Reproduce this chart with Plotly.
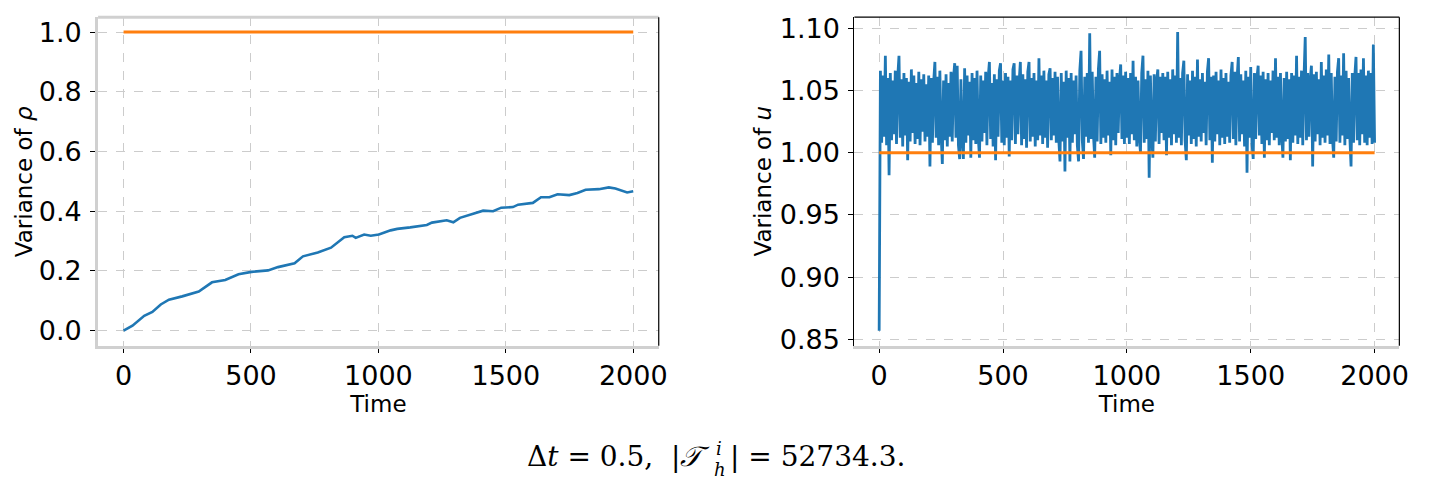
import plotly.graph_objects as go

# ---------------- data ----------------
# Left panel: variance of rho over time
time_rho = [0, 35, 81, 113, 146, 178, 230, 295, 347, 399, 451, 502, 567, 606, 671, 704,
            762, 814, 866, 898, 911, 944, 970, 1002, 1048, 1074, 1125, 1164, 1190, 1210,
            1268, 1294, 1320, 1372, 1411, 1450, 1482, 1528, 1548, 1606, 1638, 1671, 1703,
            1749, 1781, 1813, 1865, 1904, 1930, 1976, 2000]
var_rho = [0.000, 0.017, 0.050, 0.063, 0.088, 0.104, 0.115, 0.131, 0.162, 0.170, 0.189,
           0.197, 0.202, 0.213, 0.226, 0.249, 0.262, 0.278, 0.313, 0.318, 0.311, 0.322,
           0.318, 0.322, 0.336, 0.341, 0.346, 0.352, 0.354, 0.362, 0.370, 0.363, 0.378,
           0.392, 0.402, 0.400, 0.412, 0.414, 0.422, 0.428, 0.447, 0.447, 0.457, 0.454,
           0.461, 0.472, 0.474, 0.480, 0.476, 0.463, 0.467]

# Right panel: variance of u over time (sampled every 5 time units)
time_u = list(range(0, 2001, 5))
var_u = [
    0.857, 1.066, 1.008, 1.062, 1.013, 1.078, 1.006, 1.060, 0.982, 1.064,
    1.010, 1.058, 1.015, 1.066, 1.007, 1.061, 1.078, 1.012, 1.059, 1.005,
    1.064, 1.014, 1.060, 0.994, 1.057, 1.009, 1.067, 1.016, 1.062, 1.007,
    1.056, 1.011, 1.065, 1.006, 1.059, 1.017, 1.063, 1.009, 1.055, 1.013,
    1.062, 0.989, 1.060, 1.008, 1.057, 1.073, 1.012, 1.061, 1.006, 1.066,
    1.015, 0.991, 1.058, 1.010, 1.063, 1.005, 1.056, 1.013, 1.065, 1.009,
    1.060, 1.072, 1.012, 1.070, 1.006, 0.995, 1.059, 1.011, 0.995, 1.068,
    1.008, 1.062, 1.014, 1.057, 0.996, 1.064, 1.010, 1.060, 1.007, 1.066,
    1.013, 0.996, 1.062, 1.009, 1.058, 1.016, 1.065, 1.006, 1.060, 1.073,
    1.011, 1.056, 1.005, 1.063, 0.994, 1.059, 1.013, 1.066, 1.072, 1.008,
    1.058, 1.006, 1.064, 1.012, 1.061, 0.997, 1.058, 1.010, 1.067, 1.072,
    1.007, 1.062, 1.015, 1.057, 1.073, 1.006, 1.063, 1.011, 1.059, 1.004,
    1.065, 1.073, 1.009, 1.060, 1.013, 1.064, 1.005, 1.058, 1.010, 1.076,
    1.014, 1.062, 1.007, 1.066, 1.012, 1.058, 1.004, 1.063, 1.068, 1.010,
    1.060, 1.014, 1.065, 1.008, 1.061, 1.011, 0.993, 1.064, 1.009, 1.057,
    0.985, 1.066, 1.012, 1.060, 0.993, 1.064, 1.008, 1.058, 1.015, 1.062,
    1.006, 0.993, 1.066, 1.082, 1.010, 0.995, 1.061, 1.013, 1.064, 1.008,
    1.096, 1.011, 1.065, 1.015, 0.996, 1.061, 1.009, 1.067, 1.082, 1.007,
    1.063, 1.012, 1.059, 1.008, 1.066, 1.014, 1.057, 0.998, 1.067, 1.010,
    1.061, 1.006, 1.064, 1.016, 1.058, 1.071, 1.011, 1.062, 1.007, 1.065,
    1.012, 1.060, 1.007, 1.064, 1.015, 1.074, 1.010, 1.061, 1.005, 1.058,
    1.013, 1.000, 1.064, 1.078, 1.008, 1.059, 1.011, 1.066, 0.980, 1.062,
    1.014, 0.996, 1.063, 1.009, 1.058, 1.067, 1.007, 1.061, 1.016, 1.064,
    1.010, 1.061, 0.998, 1.065, 1.012, 1.059, 1.006, 1.067, 1.015, 1.062,
    1.008, 1.097, 1.012, 1.060, 1.006, 1.064, 1.074, 1.010, 0.994, 1.063,
    1.014, 1.058, 1.007, 1.066, 1.011, 1.061, 1.005, 1.075, 1.013, 1.059,
    1.009, 1.064, 1.016, 1.057, 1.006, 1.065, 1.076, 1.010, 1.061, 0.992,
    1.062, 1.009, 1.065, 1.015, 1.058, 1.006, 1.067, 1.012, 1.060, 1.007,
    1.064, 1.013, 1.057, 1.008, 1.062, 1.073, 1.011, 1.065, 1.006, 1.060,
    1.077, 1.009, 1.063, 1.015, 1.058, 1.005, 1.066, 0.984, 1.061, 1.012,
    1.069, 1.008, 0.995, 1.064, 1.011, 1.060, 1.070, 1.014, 1.062, 1.007,
    1.065, 0.996, 1.059, 1.010, 1.064, 1.006, 1.058, 1.016, 1.066, 1.010,
    1.076, 1.012, 1.061, 1.006, 1.064, 1.015, 0.996, 1.060, 1.009, 1.065,
    1.011, 1.059, 0.994, 1.064, 1.008, 1.062, 1.014, 1.078, 1.007, 1.061,
    1.012, 1.066, 1.006, 1.060, 1.093, 1.010, 1.064, 1.013, 1.058, 1.070,
    0.989, 1.063, 1.009, 1.065, 1.015, 1.059, 1.006, 1.073, 1.012, 1.062,
    1.008, 1.067, 1.014, 1.079, 1.007, 1.064, 1.012, 0.996, 1.061, 1.009,
    1.065, 1.076, 1.008, 1.062, 1.014, 1.080, 1.006, 1.066, 1.011, 1.060,
    1.013, 0.989, 1.064, 1.008, 1.061, 1.077, 1.010, 1.064, 1.006, 1.067,
    1.015, 1.076, 1.008, 1.062, 1.006, 1.066, 1.012, 1.064, 1.007, 1.087,
    1.008,
]

# Reference (target) variance lines
ref_time = [0, 2000]
ref_value = [1.0, 1.0]

x_ticks = [0, 500, 1000, 1500, 2000]
rho_ticks = [0.0, 0.2, 0.4, 0.6, 0.8, 1.0]
u_ticks = [0.85, 0.90, 0.95, 1.00, 1.05, 1.10]

# ---------------- figure ----------------
W, H = 1433, 488
BLUE = "#1f77b4"
ORANGE = "#ff7f0e"
SPINE_GRAY = "#d0d0d0"
GRID = "#cccccc"

fig = go.Figure()

fig.add_trace(go.Scatter(x=time_rho, y=var_rho, mode="lines",
                         line=dict(color=BLUE, width=2.6), xaxis="x", yaxis="y",
                         showlegend=False))
fig.add_trace(go.Scatter(x=ref_time, y=ref_value, mode="lines",
                         line=dict(color=ORANGE, width=3), xaxis="x", yaxis="y",
                         showlegend=False))
fig.add_trace(go.Scatter(x=time_u, y=var_u, mode="lines",
                         line=dict(color=BLUE, width=2.8, simplify=False),
                         xaxis="x2", yaxis="y2", showlegend=False))
fig.add_trace(go.Scatter(x=ref_time, y=ref_value, mode="lines",
                         line=dict(color=ORANGE, width=3), xaxis="x2", yaxis="y2",
                         showlegend=False))


def pad_range(vals, frac=0.05):
    lo, hi = min(vals), max(vals)
    m = (hi - lo) * frac
    return [lo - m, hi + m]


x_range = pad_range(time_u)
rho_range = pad_range(var_rho + ref_value)
u_range = pad_range(var_u + ref_value)

tick_font = dict(family="DejaVu Sans", size=27, color="black")
title_font = dict(family="DejaVu Sans", size=23, color="black")

ydom = [(H - 351.0) / H, (H - 13.5) / H]
x1dom = [98.7 / W, 662.9 / W]
x2dom = [859.8 / W, 1408.2 / W]

common_x = dict(range=x_range, tickvals=x_ticks, ticks="outside", ticklen=4, tickwidth=1.2,
                tickcolor="black", tickfont=tick_font, showline=True, linecolor=SPINE_GRAY,
                linewidth=3, showgrid=True, gridcolor=GRID, griddash="dash", gridwidth=1,
                zeroline=False, ticklabelstandoff=0,
                title=dict(text="Time", font=title_font, standoff=0))
common_y = dict(ticks="outside", ticklen=5, tickwidth=1.2, tickcolor="black",
                tickfont=tick_font, showline=True, showgrid=True, gridcolor=GRID,
                griddash="dash", gridwidth=1, zeroline=False, ticklabelstandoff=3)

fig.update_layout(
    width=W, height=H,
    margin=dict(l=0, r=0, t=0, b=0),
    paper_bgcolor="white", plot_bgcolor="white",
    xaxis=dict(domain=x1dom, anchor="y", **common_x),
    yaxis=dict(domain=ydom, anchor="x", range=rho_range, tickvals=rho_ticks,
               tickformat=".1f", linecolor=SPINE_GRAY, linewidth=3, **common_y),
    xaxis2=dict(domain=x2dom, anchor="y2", **common_x),
    yaxis2=dict(domain=ydom, anchor="x2", range=u_range, tickvals=u_ticks,
                tickformat=".2f", linecolor="black", linewidth=1.2, **common_y),
)

# top / right spines
fig.add_shape(type="line", xref="x domain", yref="y domain", x0=0, x1=1, y0=1, y1=1,
              line=dict(color=SPINE_GRAY, width=3))
fig.add_shape(type="line", xref="x domain", yref="y domain", x0=1, x1=1, y0=0, y1=1,
              line=dict(color="black", width=1.2))
fig.add_shape(type="line", xref="x2 domain", yref="y2 domain", x0=0, x1=1, y0=1, y1=1,
              line=dict(color="black", width=1.2))
fig.add_shape(type="line", xref="x2 domain", yref="y2 domain", x0=1, x1=1, y0=0, y1=1,
              line=dict(color="black", width=1.2))


def px(xp, yp):
    return xp / W, 1 - yp / H


# y-axis titles placed like matplotlib labels (centred on the axes)
ycenter = (13.5 + 351.0) / 2
for xc, txt in ((25, "Variance of <i>ρ</i>"), (768, "Variance of <i>u</i>")):
    ax, ay = px(xc, ycenter)
    fig.add_annotation(x=ax, y=ay, xref="paper", yref="paper", xanchor="center",
                       yanchor="middle", textangle=-90, text=txt, showarrow=False,
                       font=title_font)

# caption
cap_font = dict(family="DejaVu Serif", size=28, color="black")
small_font = dict(family="DejaVu Serif", size=18, color="black")

ax, ay = px(716, 465)
fig.add_annotation(x=ax, y=ay, xref="paper", yref="paper", xanchor="right", yanchor="middle",
                   text="Δ<i>t</i> = 0.5,  |<i>𝒯</i>", showarrow=False, font=cap_font)
ax, ay = px(719, 457)
fig.add_annotation(x=ax, y=ay, xref="paper", yref="paper", xanchor="left", yanchor="middle",
                   text="<i>i</i>", showarrow=False, font=small_font)
ax, ay = px(717, 478)
fig.add_annotation(x=ax, y=ay, xref="paper", yref="paper", xanchor="left", yanchor="middle",
                   text="<i>h</i>", showarrow=False, font=small_font)
ax, ay = px(733, 465)
fig.add_annotation(x=ax, y=ay, xref="paper", yref="paper", xanchor="left", yanchor="middle",
                   text="| = 52734.3.", showarrow=False, font=cap_font)

fig.write_html("out.html")
